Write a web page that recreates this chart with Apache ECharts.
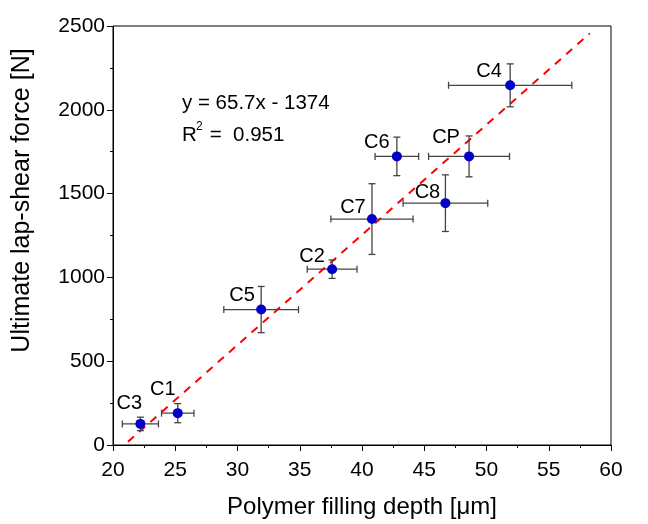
<!DOCTYPE html>
<html><head><meta charset="utf-8">
<script src="https://cdn.jsdelivr.net/npm/echarts@6/dist/echarts.min.js"></script>
<style>html,body{margin:0;padding:0;background:#fff}#c{width:648px;height:524px}</style>
</head><body><div id="c"></div>
<script>
const names = ['C3','C1','C5','C2','C7','C8','C6','CP','C4'];
const depth = [22.2, 25.2, 31.9, 37.6, 40.8, 46.7, 42.8, 48.6, 51.9];
const force = [126, 190, 808, 1049, 1348, 1443, 1722, 1722, 2146];
const depthErr = [1.45, 1.3, 3.0, 2.0, 3.3, 3.4, 1.75, 3.25, 4.95];
const forceErr = [40, 57, 138, 55, 211, 169, 115, 122, 128];
const fitLine = [[21.2, 19], [58.3, 2456]];
const xTicks = [20,25,30,35,40,45,50,55,60];
const yTicks = [0,500,1000,1500,2000,2500];
const labelOffsets = [[-11,-20],[-15,-24],[-19,-14],[-20,-13],[-19,-12],[-18,-11],[-20,-14],[-23,-19],[-21,-14]];

const font = "Liberation Sans, Arial, sans-serif";
const chart = echarts.init(document.getElementById('c'));
const pts = names.map((n,i)=>({value:[depth[i], force[i]], name:n,
  label:{show:true, formatter:n, position:'inside', offset:labelOffsets[i], color:'#000', fontSize:20, fontFamily:font}}));
const errData = names.map((n,i)=>[depth[i], force[i], depthErr[i], forceErr[i]]);

chart.setOption({
  backgroundColor:'#fff',
  animation:false,
  grid:{left:113, right:37, top:26, bottom:77, show:true, borderColor:'#000', borderWidth:1, backgroundColor:'transparent'},
  xAxis:{type:'value', min:xTicks[0], max:xTicks[xTicks.length-1], interval:5,
    name:'Polymer filling depth [\u03bcm]', nameLocation:'middle', nameGap:50,
    nameTextStyle:{fontSize:24, fontFamily:font, color:'#000'},
    axisLine:{lineStyle:{color:'#000', width:1}},
    axisTick:{inside:false, length:6, lineStyle:{color:'#000'}},
    minorTick:{show:true, splitNumber:2, length:3, lineStyle:{color:'#000'}},
    splitLine:{show:false},
    axisLabel:{fontSize:21, fontFamily:font, color:'#000', margin:15}},
  yAxis:{type:'value', min:yTicks[0], max:yTicks[yTicks.length-1], interval:500,
    name:'Ultimate lap-shear force [N]', nameLocation:'middle', nameGap:78,
    nameTextStyle:{fontSize:25, fontFamily:font, color:'#000', padding:[0,0,0,70]},
    axisLine:{lineStyle:{color:'#000', width:1}},
    axisTick:{inside:false, length:6, lineStyle:{color:'#000'}},
    minorTick:{show:true, splitNumber:2, length:3, lineStyle:{color:'#000'}},
    splitLine:{show:false},
    axisLabel:{fontSize:21, fontFamily:font, color:'#000', margin:8, formatter:v=>String(v)}},
  graphic:[
    {type:'text', left:182, top:93, style:{text:'y = 65.7x - 1374', fontSize:20.5, fontFamily:font, fill:'#000'}},
    {type:'group', left:182, top:121, children:[
      {type:'text', left:0, top:0, style:{text:'R', fontSize:20.5, fontFamily:font, fill:'#000'}},
      {type:'text', left:14, top:-4, style:{text:'2', fontSize:12, fontFamily:font, fill:'#000'}},
      {type:'text', left:22, top:0, style:{text:' =  0.951', fontSize:20.5, fontFamily:font, fill:'#000'}}
    ]}
  ],
  series:[
    {type:'line', data:fitLine, showSymbol:false, silent:true,
      lineStyle:{color:'#ff0000', width:2, type:[8,7]}, z:2},
    {type:'custom', data:errData, z:3, silent:true,
      renderItem:function(params, api){
        const x=api.value(0), y=api.value(1), dx=api.value(2), dy=api.value(3);
        const l=api.coord([x-dx,y]), r=api.coord([x+dx,y]);
        const t=api.coord([x,y+dy]), b=api.coord([x,y-dy]);
        const c=3.5, st={stroke:'#444', lineWidth:1.3};
        return {type:'group', children:[
          {type:'line', shape:{x1:l[0],y1:l[1],x2:r[0],y2:r[1]}, style:st},
          {type:'line', shape:{x1:l[0],y1:l[1]-c,x2:l[0],y2:l[1]+c}, style:st},
          {type:'line', shape:{x1:r[0],y1:r[1]-c,x2:r[0],y2:r[1]+c}, style:st},
          {type:'line', shape:{x1:t[0],y1:t[1],x2:b[0],y2:b[1]}, style:st},
          {type:'line', shape:{x1:t[0]-c,y1:t[1],x2:t[0]+c,y2:t[1]}, style:st},
          {type:'line', shape:{x1:b[0]-c,y1:b[1],x2:b[0]+c,y2:b[1]}, style:st}
        ]};
      }},
    {type:'scatter', data:pts, symbolSize:10, itemStyle:{color:'#0000c8', opacity:1}, z:4}
  ]
});
</script></body></html>
